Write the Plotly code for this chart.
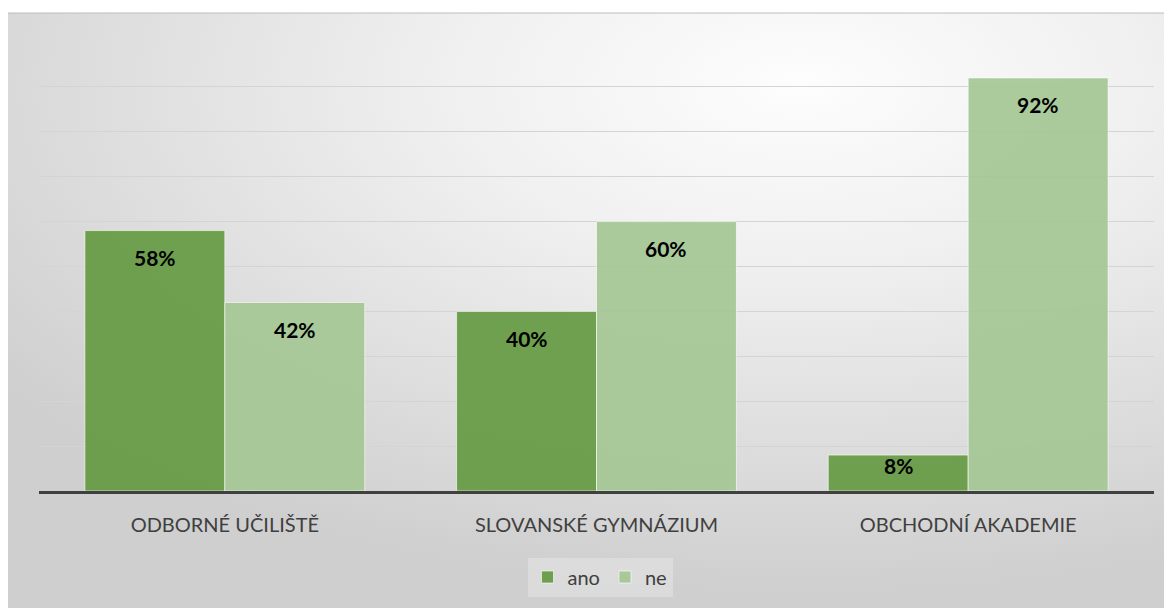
import base64
import plotly.graph_objects as go

categories = ["ODBORNÉ UČILIŠTĚ", "SLOVANSKÉ GYMNÁZIUM", "OBCHODNÍ AKADEMIE"]
series_names = ["ano", "ne"]
ano_values = [0.58, 0.40, 0.08]
ne_values = [0.42, 0.60, 0.92]

# page has an 8px body margin, so figure coordinates = page coordinates - 8
W, H = 1164, 600
L, R, T, B = 31, 18, 34, 117
plot_w = W - L - R
plot_h = H - T - B

colors = {"ano": "rgba(101,154,66,0.92)", "ne": "rgba(164,199,148,0.92)"}

svg = """<svg xmlns='http://www.w3.org/2000/svg' width='1164' height='595' viewBox='0 0 1164 595' preserveAspectRatio='none'>
<defs><radialGradient id='g' cx='0.68' cy='0.12' r='0.85' fx='0.68' fy='0.12'>
<stop offset='0' stop-color='#fdfdfd'/>
<stop offset='0.35' stop-color='#f0f0f0'/>
<stop offset='0.7' stop-color='#dedede'/>
<stop offset='1' stop-color='#cfcfcf'/>
</radialGradient></defs>
<rect x='0' y='0' width='1164' height='595' fill='url(#g)'/>
</svg>"""
src = "data:image/svg+xml;base64," + base64.b64encode(svg.encode()).decode()

fig = go.Figure()
for name, vals in zip(series_names, [ano_values, ne_values]):
    fig.add_trace(go.Bar(
        x=categories, y=vals, name=name,
        marker=dict(color=colors[name], line=dict(color="rgba(255,255,255,0.6)", width=1)),
        hoverinfo="skip",
    ))

cat_w = plot_w / len(categories)
bargap = 0.247
bar_w = cat_w * (1 - bargap) / 2
annotations = []
for i, (name, vals) in enumerate(zip(series_names, [ano_values, ne_values])):
    xs = (-0.5 + i) * bar_w
    for c, v in zip(categories, vals):
        hpx = v * plot_h
        off = min(27, hpx - 26)
        annotations.append(dict(
            x=c, y=v, xref="x", yref="y", text=f"<b>{round(v*100)}%</b>",
            showarrow=False, xshift=xs, yshift=-off,
            font=dict(family="Lato, 'Open Sans', sans-serif", size=21, color="#000000"),
        ))

x0p = (0 - L) / plot_w
x1p = (W - L) / plot_w
y1p = (H - B - 5) / plot_h
y0p = (H - B - H) / plot_h

fig.update_layout(
    width=W, height=H,
    margin=dict(l=L, r=R, t=T, b=B),
    paper_bgcolor="white",
    plot_bgcolor="rgba(0,0,0,0)",
    barmode="group", bargap=bargap, bargroupgap=0,
    showlegend=True,
    legend=dict(orientation="h", x=(592 - L) / plot_w, xanchor="center",
                y=(H - B - 569) / plot_h, yanchor="middle",
                font=dict(family="Lato, 'Open Sans', sans-serif", size=20, color="#404040"),
                bgcolor="rgba(255,255,255,0.25)", itemwidth=30, traceorder="normal"),
    images=[dict(source=src, xref="paper", yref="paper", x=x0p, y=y1p,
                 sizex=x1p - x0p, sizey=y1p - y0p, sizing="stretch",
                 xanchor="left", yanchor="top", layer="below")],
    shapes=[dict(type="line", xref="paper", yref="paper", x0=x0p, x1=x1p, y0=y1p, y1=y1p,
                 line=dict(color="#bdbdbd", width=1))],
    annotations=annotations,
    xaxis=dict(showline=True, linecolor="#404040", linewidth=3, showgrid=False,
               ticks="outside", ticklen=14, tickcolor="rgba(0,0,0,0)",
               tickfont=dict(family="Lato, 'Open Sans', sans-serif", size=20, color="#404040")),
    yaxis=dict(range=[0, 1], dtick=0.1, showticklabels=False, showgrid=True,
               gridcolor="#d4d4d4", gridwidth=1, zeroline=False, showline=False),
)

fig.write_html("out.html")
